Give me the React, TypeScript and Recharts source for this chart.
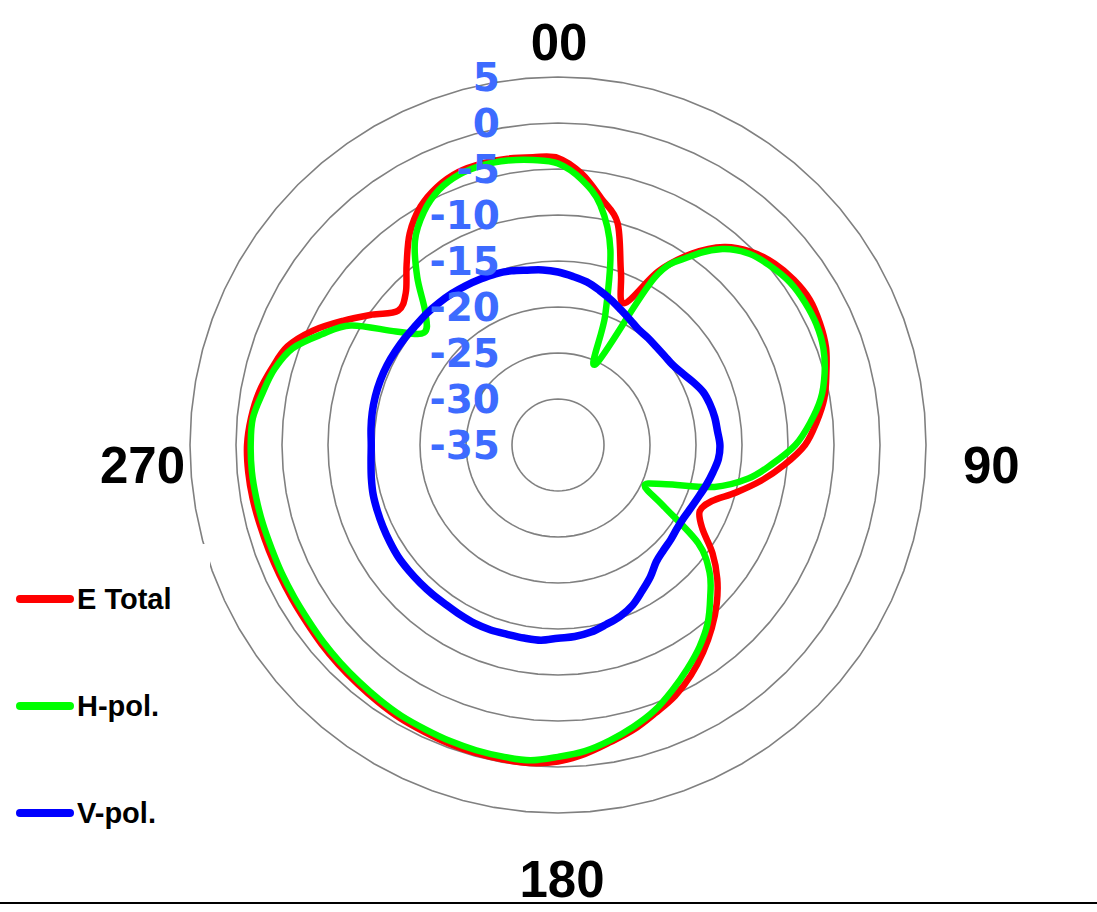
import React from 'react';
import { RadarChart, Radar, PolarGrid, PolarAngleAxis, PolarRadiusAxis, Legend } from 'recharts';

const angles = [
  0, 5, 10, 15, 20, 25, 30, 35, 40, 45, 50, 55, 60, 65, 70, 75, 80, 85,
  90, 95, 100, 105, 110, 115, 120, 125, 130, 135, 140, 145, 150, 155, 160, 165, 170, 175,
  180, 185, 190, 195, 200, 205, 210, 215, 220, 225, 230, 235, 240, 245, 250, 255, 260, 265,
  270, 275, 280, 285, 290, 295, 300, 305, 310, 315, 320, 325, 330, 335, 340, 345, 350, 355,
];

const eTotal = [
  -3.8, -5.4, -7.8, -10.0, -15.0, -18.0, -13.2, -9.6, -6.9, -5.3, -4.3, -3.7, -3.4, -3.6, -4.0, -4.8, -5.6, -6.8,
  -8.15, -10.3, -12.6, -15.0, -17.2, -18.0, -16.9, -14.5, -12.4, -10.6, -9.0, -7.5, -6.1, -4.9, -4.0, -3.0, -2.2, -1.3,
  -0.6, -0.3, -0.3, -0.35, -0.45, -0.6, -0.7, -0.9, -1.1, -1.25, -1.4, -1.55, -1.6, -1.6, -1.55, -1.45, -1.3, -1.2,
  -1.2, -1.5, -2.0, -2.8, -3.7, -5.6, -8.0, -10.3, -12.3, -11.6, -9.4, -6.9, -5.1, -4.0, -3.4, -3.3, -3.4, -3.6,
];

const hPol = [
  -4.4, -6.0, -8.5, -13.0, -20.0, -25.3, -14.0, -10.0, -7.2, -5.6, -4.8, -4.2, -4.0, -4.0, -4.3, -5.0, -6.0, -7.5,
  -9.2, -11.6, -14.0, -17.4, -22.5, -24.6, -21.8, -16.4, -13.5, -11.6, -9.7, -8.2, -6.9, -5.6, -4.3, -3.3, -2.4, -1.6,
  -1.1, -0.6, -0.6, -0.65, -0.75, -0.9, -1.0, -1.2, -1.4, -1.55, -1.7, -1.85, -1.9, -1.9, -1.9, -1.8, -1.7, -1.6,
  -1.6, -1.7, -2.4, -3.1, -4.3, -6.6, -9.0, -13.5, -16.0, -14.6, -11.2, -7.9, -5.8, -4.4, -3.7, -3.5, -3.6, -3.9,
];

const vPol = [
  -16.2, -16.6, -17.0, -17.6, -18.2, -18.8, -19.3, -19.7, -19.8, -19.9, -19.9, -19.8, -19.4, -18.8, -18.2, -17.9, -17.7, -17.6,
  -17.4, -17.5, -17.9, -18.3, -18.7, -19.0, -19.2, -19.2, -19.0, -18.8, -18.4, -17.5, -16.7, -15.8, -15.2, -14.8, -14.35, -14.1,
  -14.0, -13.7, -13.7, -13.7, -13.6, -13.6, -13.7, -13.8, -13.8, -13.8, -13.8, -13.8, -13.9, -14.0, -14.1, -14.2, -14.4, -14.6,
  -14.7, -14.6, -14.5, -14.45, -14.45, -14.5, -14.6, -14.7, -14.8, -14.8, -14.85, -14.9, -15.0, -15.1, -15.2, -15.4, -15.7, -15.9,
];

const angleLabels: Record<number, string> = { 0: '00', 90: '90', 180: '180', 270: '270' };
const radiusTicks = [-35, -30, -25, -20, -15, -10, -5, 0, 5];

const seriesNames = ['E Total', 'H-pol.', 'V-pol.'];
const seriesKeys = ['eTotal', 'hPol', 'vPol'];
const seriesColors = ['#ff0000', '#00ff00', '#0000ff'];
const seriesWidths = [6.5, 6.5, 7.5];

const rows = angles.map((a, i) => ({ angle: a, eTotal: eTotal[i], hPol: hPol[i], vPol: vPol[i] }));

// Closed Catmull-Rom path through the points that Recharts computed
const smoothClosedPath = (pts: { x: number; y: number }[]) => {
  const n = pts.length;
  if (n < 3) return '';
  let d = `M${pts[0].x},${pts[0].y}`;
  for (let i = 0; i < n; i++) {
    const p0 = pts[(i - 1 + n) % n];
    const p1 = pts[i];
    const p2 = pts[(i + 1) % n];
    const p3 = pts[(i + 2) % n];
    const c1x = p1.x + (p2.x - p0.x) / 6;
    const c1y = p1.y + (p2.y - p0.y) / 6;
    const c2x = p2.x - (p3.x - p1.x) / 6;
    const c2y = p2.y - (p3.y - p1.y) / 6;
    d += `C${c1x},${c1y},${c2x},${c2y},${p2.x},${p2.y}`;
  }
  return d + 'Z';
};

const makeShape = (color: string, width: number) => (props: any) => {
  const pts = (props.points || []).map((p: any) => ({ x: p.x, y: p.y }));
  return (
    <path
      d={smoothClosedPath(pts)}
      fill="none"
      stroke={color}
      strokeWidth={width}
      strokeLinejoin="round"
      strokeLinecap="round"
    />
  );
};

const AngleTick = (props: any) => {
  const { x, y, payload } = props;
  const v = Number(payload.value);
  const label = angleLabels[v];
  if (label === undefined) return <g />;
  let dx = 0;
  let dy = 0;
  let anchor: 'start' | 'middle' | 'end' = 'middle';
  if (v === 0) { dx = 1; dy = -9; }
  else if (v === 90) { dx = 29; dy = 38; anchor = 'start'; }
  else if (v === 180) { dx = 4; dy = 76; }
  else if (v === 270) { dx = 3; dy = 38; anchor = 'end'; }
  return (
    <text x={x + dx} y={y + dy} textAnchor={anchor} fill="#000" fontFamily="'Liberation Sans', Arial, sans-serif" fontWeight="bold" fontSize={51}>
      {label}
    </text>
  );
};

const RadiusTick = (props: any) => {
  const { x, y, payload } = props;
  return (
    <text x={x - 58} y={y + 14} textAnchor="end" fill="#3D6BFF" fontFamily="'DejaVu Sans', Verdana, sans-serif" fontWeight="bold" fontSize={39}>
      {payload.value}
    </text>
  );
};

const renderLegend = () => (
  <svg width={210} height={300} style={{ display: 'block', background: '#fff' }}>
    {seriesNames.map((name, i) => {
      const cy = 55 + i * 107;
      return (
        <g key={name}>
          <line x1={20} x2={70} y1={cy} y2={cy} stroke={seriesColors[i]} strokeWidth={8} strokeLinecap="round" />
          <text x={77} y={cy + 10} fill="#000" fontFamily="'Liberation Sans', Arial, sans-serif" fontWeight="bold" fontSize={29}>
            {name}
          </text>
        </g>
      );
    })}
  </svg>
);

export default function App() {
  return (
    <div style={{ position: 'absolute', left: 0, top: 0, width: 1097, height: 912, background: '#fff' }}>
      <RadarChart
        width={1097}
        height={912}
        data={rows}
        cx={558}
        cy={445}
        outerRadius={368}
        margin={{ top: 0, right: 0, bottom: 0, left: 0 }}
      >
        <PolarGrid gridType="polygon" radialLines={false} stroke="#808080" strokeWidth={1.6} />
        <PolarAngleAxis dataKey="angle" tick={AngleTick} axisLine={false} tickLine={false} />
        {seriesKeys.map((k, i) => (
          <Radar
            key={k}
            name={seriesNames[i]}
            dataKey={k}
            stroke={seriesColors[i]}
            strokeWidth={seriesWidths[i]}
            fill="none"
            fillOpacity={0}
            dot={false}
            isAnimationActive={false}
            shape={makeShape(seriesColors[i], seriesWidths[i])}
          />
        ))}
        <PolarRadiusAxis
          angle={90}
          domain={[-35, 5]}
          ticks={radiusTicks as any}
          tickCount={9}
          axisLine={false}
          tick={RadiusTick}
        />
        <Legend
          content={renderLegend}
          wrapperStyle={{ position: 'absolute', left: 0, top: 544, width: 210, height: 300, background: '#fff' }}
        />
      </RadarChart>
      <div style={{ position: 'absolute', left: 0, top: 902, width: 1097, height: 2, background: '#000' }} />
    </div>
  );
}
